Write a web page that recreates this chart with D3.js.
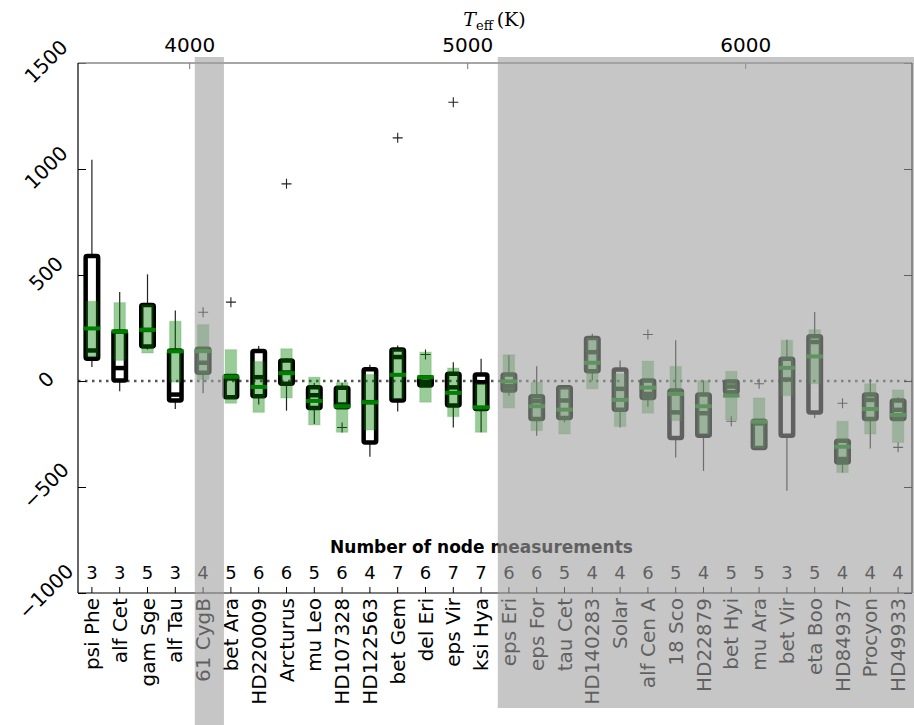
<!DOCTYPE html>
<html>
<head>
<meta charset="utf-8">
<script src="https://cdn.jsdelivr.net/npm/d3@7"></script>
<style>
body { margin: 0; background: #fff; }
svg { display: block; font-family: 'DejaVu Sans', sans-serif; }
</style>
</head>
<body>
<svg width="914" height="725"></svg>
<script>
var stars = ['psi Phe', 'alf Cet', 'gam Sge', 'alf Tau', '61 CygB', 'bet Ara', 'HD220009', 'Arcturus',
	'mu Leo', 'HD107328', 'HD122563', 'bet Gem', 'del Eri', 'eps Vir', 'ksi Hya', 'eps Eri', 'eps For',
	'tau Cet', 'HD140283', 'Solar', 'alf Cen A', '18 Sco', 'HD22879', 'bet Hyi', 'mu Ara', 'bet Vir',
	'eta Boo', 'HD84937', 'Procyon', 'HD49933'];
var nodeCounts = [3, 3, 5, 3, 4, 5, 6, 6, 5, 6, 4, 7, 6, 7, 7, 6, 6, 5, 4, 4, 6, 5, 4, 5, 5, 3, 5, 4, 4, 4];

// black box plots
var whiskerLow = [66, -48, 148, -132, -58, -79, -111, -140, -203, -124, -357, -144, -21, -219, -242,
	-69, -258, -195, 2, -219, -121, -361, -424, -53, -316, -518, -174, -432, -318, -179];
var boxLow = [105, 2, 163, -92, 39, -77, -72, -13, -127, -124, -290, -92, -21, -116, -132,
	-45, -179, -174, 46, -136, -80, -269, -258, -53, -316, -258, -148, -384, -179, -179];
var boxMedian = [144, 61, 241, -64, 86, 12, 18, 40, -67, -111, -100, 113, -5, -30, -6,
	-25, -95, -92, 136, -37, -61, -148, -152, -26, -200, 7, 184, -368, -89, -136];
var boxHigh = [590, 234, 359, 144, 152, 23, 141, 97, -29, -32, 56, 148, 18, 34, 31,
	31, -72, -29, 203, 54, 2, -45, -64, -2, -187, 105, 211, -282, -64, -92];
var whiskerHigh = [1044, 420, 503, 332, 152, 23, 165, 108, -10, -10, 77, 168, 18, 89, 105,
	121, 69, -29, 223, 97, 2, 192, 0, -2, -187, 195, 326, -282, 10, -77];
var outliers = [[], [], [], [], [324], [372], [], [930], [], [-219], [], [1147], [125], [1315], [],
	[], [], [], [], [], [219], [], [], [-190], [-13], [], [], [-105], [], [-313]];

// green box plots
var greenLow = [116, 97, 132, -5, 7, -105, -148, -80, -207, -242, -231, -84, -100, -168, -242,
	-127, -234, -250, -37, -215, -152, -187, -250, -184, -316, -69, -13, -432, -250, -290];
var greenMedian = [248, 234, 241, 140, 141, 20, -28, 37, -94, -119, -100, 29, 18, -56, -124,
	-2, -119, -135, 86, -89, -31, -61, -119, -69, -192, 62, 116, -310, -132, -160];
var greenHigh = [376, 370, 360, 282, 266, 148, 92, 152, 18, -7, 31, 150, 136, 61, -13,
	124, -6, -29, 203, 34, 94, 69, 2, 46, -80, 192, 242, -190, -13, -42];

var yTicks = [-1000, -500, 0, 500, 1000, 1500];
var teffTicks = [4000, 5000, 6000];
var shadedTeff = [[4020, 4125, 662], [5110, 6700, 645]];

var svg = d3.select('svg');
var margin = { top: 63, right: 2, bottom: 132, left: 78 };
var width = +svg.attr('width') - margin.left - margin.right;
var height = +svg.attr('height') - margin.top - margin.bottom;
var g = svg.append('g').attr('transform', `translate(${margin.left}, ${margin.top})`);

var x = d3.scaleBand().domain(stars).range([0, width]);
var y = d3.scaleLinear().domain([-1000, 1500]).range([height, 0]);
var teff = d3.scaleLinear().domain([3600, 6600]).range([0, width]);

var boxW = 12.5;
var cx = function (s) { return x(s) + x.bandwidth() / 2; };
var minus = function (d) { return d < 0 ? '\u2212' + Math.abs(d) : '' + d; };

var rows = stars.map(function (s, i) {
	return {
		star: s, n: nodeCounts[i], wLo: whiskerLow[i], lo: boxLow[i], med: boxMedian[i],
		hi: boxHigh[i], wHi: whiskerHigh[i], out: outliers[i],
		gLo: greenLow[i], gMed: greenMedian[i], gHi: greenHigh[i]
	};
});

// zero line
g.append('line')
	.attr('x1', 0).attr('x2', width)
	.attr('y1', y(0)).attr('y2', y(0))
	.attr('stroke', '#555').attr('stroke-width', 2.5)
	.attr('stroke-dasharray', '2.5,4.5');

var box = g.selectAll('.star').data(rows).enter().append('g')
	.attr('class', 'star')
	.attr('transform', function (d) { return `translate(${cx(d.star)},0)`; });

box.append('line')
	.attr('y1', function (d) { return y(d.wLo); })
	.attr('y2', function (d) { return y(d.lo); })
	.attr('stroke', '#222').attr('stroke-width', 1.2);
box.append('line')
	.attr('y1', function (d) { return y(d.hi); })
	.attr('y2', function (d) { return y(d.wHi); })
	.attr('stroke', '#222').attr('stroke-width', 1.2);

box.append('rect')
	.attr('x', -boxW / 2).attr('width', boxW)
	.attr('y', function (d) { return y(d.hi); })
	.attr('height', function (d) { return y(d.lo) - y(d.hi); })
	.attr('rx', 1.5)
	.attr('fill', 'none').attr('stroke', '#000').attr('stroke-width', 4.5)
	.attr('stroke-linejoin', 'round');
box.append('line')
	.attr('x1', -boxW / 2).attr('x2', boxW / 2)
	.attr('y1', function (d) { return y(d.med); })
	.attr('y2', function (d) { return y(d.med); })
	.attr('stroke', '#000').attr('stroke-width', 4.5);

box.selectAll('.flier').data(function (d) { return d.out; }).enter().append('path')
	.attr('class', 'flier')
	.attr('transform', function (v) { return `translate(0,${y(v)})`; })
	.attr('d', 'M-5,0H5M0,-5V5')
	.attr('stroke', '#222').attr('stroke-width', 1.1);

box.append('rect')
	.attr('x', -boxW / 2 + 0.5).attr('width', boxW - 1)
	.attr('y', function (d) { return y(d.gHi); })
	.attr('height', function (d) { return y(d.gLo) - y(d.gHi); })
	.attr('fill', 'green').attr('fill-opacity', 0.4)
	.attr('stroke', 'green').attr('stroke-opacity', 0.12).attr('stroke-width', 1.5);
box.append('line')
	.attr('x1', -boxW / 2 - 2).attr('x2', boxW / 2 + 2)
	.attr('y1', function (d) { return y(d.gMed); })
	.attr('y2', function (d) { return y(d.gMed); })
	.attr('stroke', 'green').attr('stroke-width', 4);

// node counts
g.selectAll('.count').data(rows).enter().append('text')
	.attr('class', 'count')
	.attr('x', function (d) { return cx(d.star); })
	.attr('y', 515.5)
	.attr('text-anchor', 'middle')
	.attr('font-size', 18)
	.text(function (d) { return d.n; });

g.append('text')
	.attr('x', 403.5).attr('y', 490)
	.attr('text-anchor', 'middle')
	.attr('font-size', 17).attr('font-weight', 'bold')
	.text('Number of node measurements');

// axes
g.append('g').call(customYAxis);
g.append('g').attr('transform', `translate(${width},0)`)
	.call(d3.axisRight(y).tickValues(yTicks).tickSize(-8).tickFormat(''))
	.call(function (a) { a.select('.domain').remove(); a.selectAll('line').attr('stroke', '#000'); });
g.append('g').attr('transform', `translate(0,${height})`).call(customXAxis);
g.append('g').call(customTopAxis);

// spines
g.append('line').attr('x1', 0).attr('x2', width).attr('y1', 0).attr('y2', 0)
	.attr('stroke', '#888').attr('stroke-width', 1.5);
g.append('line').attr('x1', 0).attr('x2', 0).attr('y1', 0).attr('y2', height)
	.attr('stroke', '#000').attr('stroke-width', 1.2);
g.append('line').attr('x1', width).attr('x2', width).attr('y1', 0).attr('y2', height)
	.attr('stroke', '#000').attr('stroke-width', 1.2);
g.append('line').attr('x1', 0).attr('x2', width).attr('y1', height).attr('y2', height)
	.attr('stroke', '#000').attr('stroke-width', 1.2);

var title = g.append('text')
	.attr('x', width / 2 - 0.5).attr('y', -37)
	.attr('text-anchor', 'middle')
	.attr('font-family', "'DejaVu Serif', serif")
	.attr('font-size', 19);
title.append('tspan').attr('font-style', 'italic').text('T');
title.append('tspan').attr('font-size', 13).attr('dy', 4).text('eff');
title.append('tspan').attr('dy', -4).text('\u2009(K)');

// shaded stars, drawn over everything
g.selectAll('.shade').data(shadedTeff).enter().append('rect')
	.attr('class', 'shade')
	.attr('x', function (d) { return teff(d[0]); })
	.attr('width', function (d) { return teff(d[1]) - teff(d[0]); })
	.attr('y', -6)
	.attr('height', function (d) { return d[2] + 6; })
	.attr('fill', '#a0a0a0').attr('fill-opacity', 0.6);

function customYAxis(a) {
	a.call(d3.axisLeft(y).tickValues(yTicks).tickSize(-8).tickFormat(minus));
	a.attr('font-family', null).attr('font-size', 20);
	a.select('.domain').remove();
	a.selectAll('.tick line').attr('stroke', '#000');
	a.selectAll('.tick text')
		.attr('fill', '#000')
		.attr('text-anchor', 'middle')
		.attr('x', null).attr('dy', null)
		.attr('dominant-baseline', 'central')
		.attr('transform', 'translate(-32,-2) rotate(-45)');
}

function customXAxis(a) {
	a.call(d3.axisBottom(x).tickSize(-6));
	a.attr('font-family', null).attr('font-size', 20);
	a.select('.domain').remove();
	a.selectAll('.tick line').attr('stroke', '#000');
	a.selectAll('.tick text')
		.attr('fill', '#000')
		.attr('text-anchor', 'end')
		.attr('y', 0).attr('dy', '0.35em')
		.attr('transform', 'translate(0,5) rotate(-90)');
}

function customTopAxis(a) {
	a.call(d3.axisTop(teff).tickValues(teffTicks).tickSize(-6).tickFormat(d3.format('d')));
	a.attr('font-family', null).attr('font-size', 20);
	a.select('.domain').remove();
	a.selectAll('.tick line').attr('stroke', '#777');
	a.selectAll('.tick text')
		.attr('fill', '#000')
		.attr('y', -11).attr('dy', null);
}
</script>
</body>
</html>
